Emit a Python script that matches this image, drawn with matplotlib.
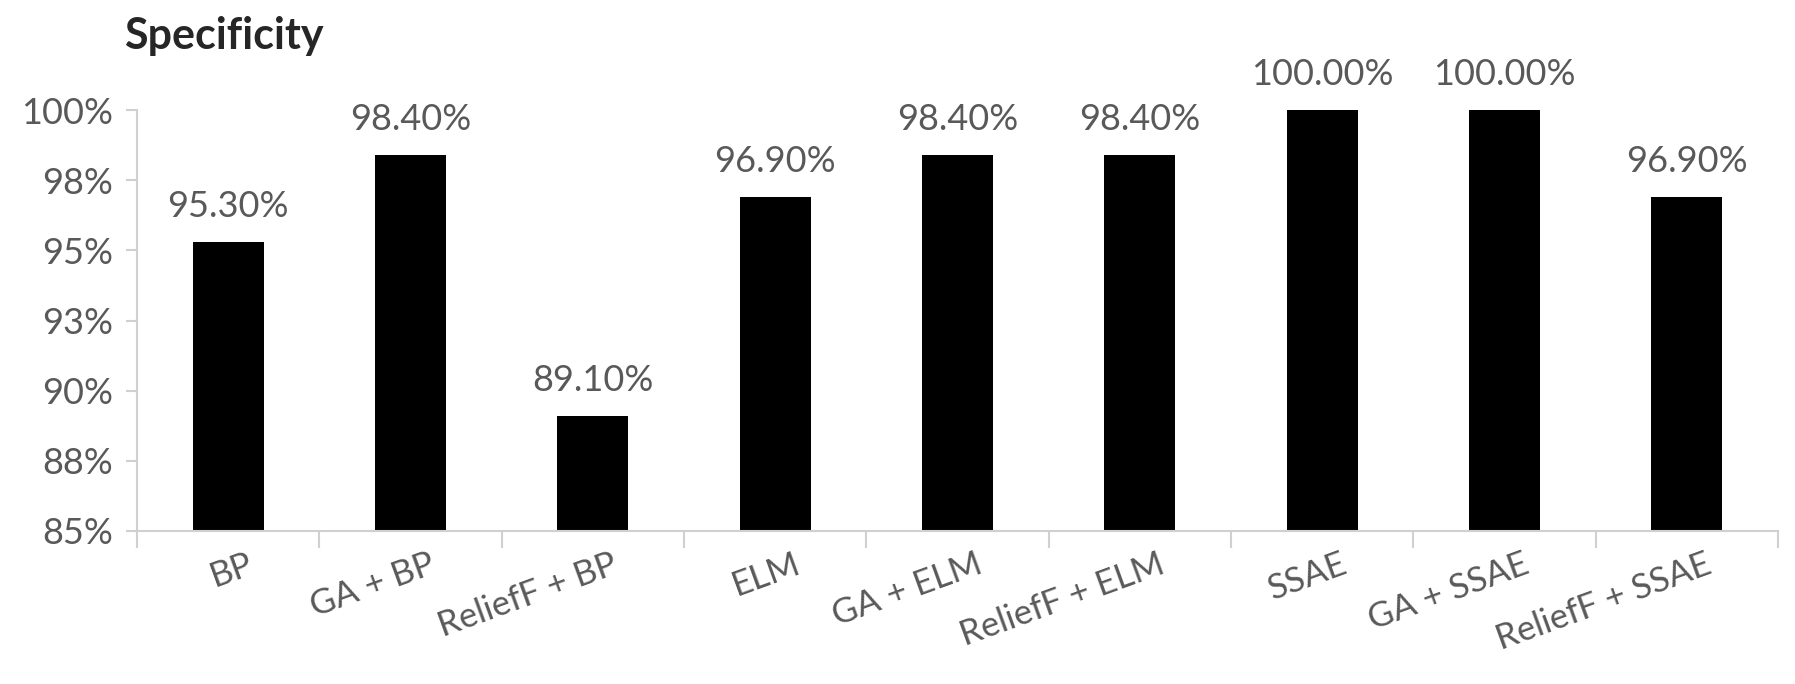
import matplotlib
matplotlib.use("Agg")
import matplotlib.pyplot as plt
from matplotlib.transforms import blended_transform_factory

categories = ["BP", "GA + BP", "ReliefF + BP", "ELM", "GA + ELM", "ReliefF + ELM",
              "SSAE", "GA + SSAE", "ReliefF + SSAE"]
values = [95.3, 98.4, 89.1, 96.9, 98.4, 98.4, 100.0, 100.0, 96.9]
ytick_values = [85, 87.5, 90, 92.5, 95, 97.5, 100]
ytick_labels = ["85%", "88%", "90%", "93%", "95%", "98%", "100%"]
title = "Specificity"

plt.rcParams['font.family'] = ['Lato', 'DejaVu Sans']
gray = "#595959"
spine = "#d0d0d0"

fig = plt.figure(figsize=(17.95, 6.84), dpi=100)
ax = fig.add_axes([0.0763, 0.2237, 0.9905 - 0.0763, 0.839 - 0.2237])

x = list(range(len(categories)))
ax.bar(x, [v - 85 for v in values], bottom=85, width=0.39, color="black", zorder=2)
ax.set_xlim(-0.5, len(categories) - 0.5)
ax.set_ylim(85, 100)

for xi, v in zip(x, values):
    ax.annotate(f"{v:.2f}%", (xi, v), xytext=(0, 14), textcoords="offset points",
                ha="center", va="bottom", fontsize=26, color=gray, clip_on=False)

ax.set_yticks(ytick_values)
ax.set_yticklabels(ytick_labels, fontsize=26, color=gray)
ax.tick_params(axis="y", length=8, color=spine, width=1.5, pad=9)

ax.set_xticks([i - 0.5 for i in range(len(categories) + 1)])
ax.set_xticklabels([])
ax.tick_params(axis="x", length=12, color=spine, width=1.5)

trans = blended_transform_factory(ax.transData, ax.transAxes)
for xi, lab in zip(x, categories):
    ax.text(xi + 0.1, -0.04, lab, transform=trans, rotation=20, rotation_mode="anchor",
            ha="right", va="top", fontsize=25, color=gray)

for s in ["top", "right"]:
    ax.spines[s].set_visible(False)
for s in ["left", "bottom"]:
    ax.spines[s].set_color(spine)
    ax.spines[s].set_linewidth(1.5)

fig.text(124 / 1795, 1 - 36 / 684, title, fontsize=31, fontweight="bold", color="#262626",
         ha="left", va="center")

fig.savefig("out.png", dpi=100)
